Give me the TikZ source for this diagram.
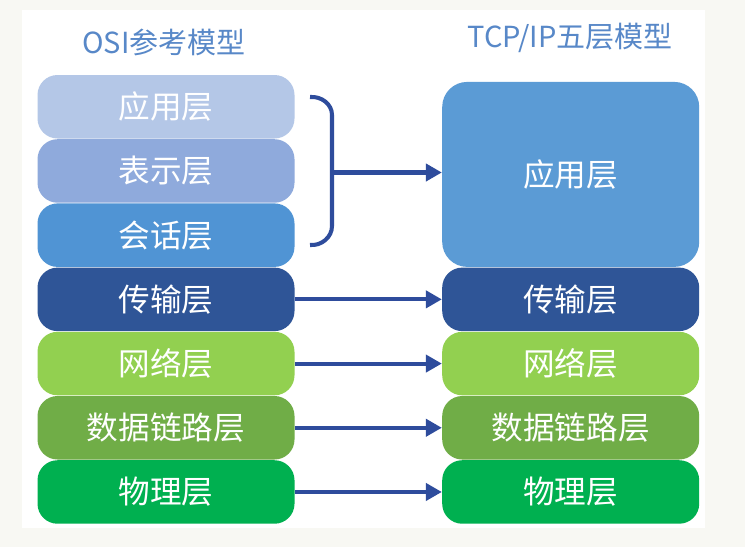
\documentclass[tikz,border=0pt]{standalone}
\usepackage{fontspec}
\setmainfont{Noto Sans CJK SC}
\usetikzlibrary{arrows.meta,positioning}
\definecolor{pageBg}{RGB}{248,248,243}
\definecolor{headB}{RGB}{88,136,200}
\definecolor{arrB}{RGB}{46,76,156}
\definecolor{appL}{RGB}{180,199,231}
\definecolor{preL}{RGB}{143,170,220}
\definecolor{sesL}{RGB}{80,148,212}
\definecolor{traL}{RGB}{47,85,151}
\definecolor{netL}{RGB}{146,208,80}
\definecolor{datL}{RGB}{112,173,71}
\definecolor{phyL}{RGB}{0,176,80}
\definecolor{appR}{RGB}{91,155,213}

\begin{document}
\begin{tikzpicture}[font=\fontsize{18}{20}\selectfont]
  \tikzset{lay/.style={fill=#1,text=white,rounded corners=0.4cm,minimum width=5.14cm,minimum height=1.27cm,inner sep=0pt}}
  \tikzset{head/.style={text=headB,font=\fontsize{16.5}{18}\selectfont}}
  \tikzset{arr/.style={-{Triangle[length=3.2mm,width=3.4mm]},line width=2.3pt,arrB}}
  \fill[pageBg] (0,0) rectangle (14.9,-10.94);
  \fill[white] (0.44,-0.2) rectangle (14.1,-10.56);
  \node[head] (osiHead) at (3.28,-0.84) {OSI参考模型};
  \node[head] (tcpHead) at (11.4,-0.76) {TCP/IP五层模型};
  % OSI
  \node[lay=appL] (osiApp) at (3.32,-2.135) {应用层};
  \node[lay=preL,below=0pt of osiApp] (osiPre) {表示层};
  \node[lay=sesL,below=0pt of osiPre] (osiSes) {会话层};
  \node[lay=traL,below=0pt of osiSes] (osiTra) {传输层};
  \node[lay=netL,below=0pt of osiTra] (osiNet) {网络层};
  \node[lay=datL,below=0pt of osiNet] (osiDat) {数据链路层};
  \node[lay=phyL,below=0pt of osiDat] (osiPhy) {物理层};
  % TCP/IP
  \node[lay=traL,right=2.94cm of osiTra] (tcpTra) {传输层};
  \node[lay=appR,minimum height=3.7cm,rounded corners=0.5cm,above=0pt of tcpTra] (tcpApp) {应用层};
  \node[lay=netL,below=0pt of tcpTra] (tcpNet) {网络层};
  \node[lay=datL,below=0pt of tcpNet] (tcpDat) {数据链路层};
  \node[lay=phyL,below=0pt of tcpDat] (tcpPhy) {物理层};
  % brace
  \coordinate (brMid) at (6.64,-3.45);
  \draw[line width=2.3pt,arrB] (6.2,-1.94) to[out=5,in=90] (brMid|-0,-2.3) -- (brMid|-0,-4.52) to[out=-90,in=-5] (6.2,-4.9);
  \draw[arr] (brMid) -- (brMid-|tcpApp.west);
  \foreach \a/\b in {osiTra/tcpTra,osiNet/tcpNet,osiDat/tcpDat,osiPhy/tcpPhy} {
    \draw[arr] (\a) -- (\b);
  }
\end{tikzpicture}
\end{document}
